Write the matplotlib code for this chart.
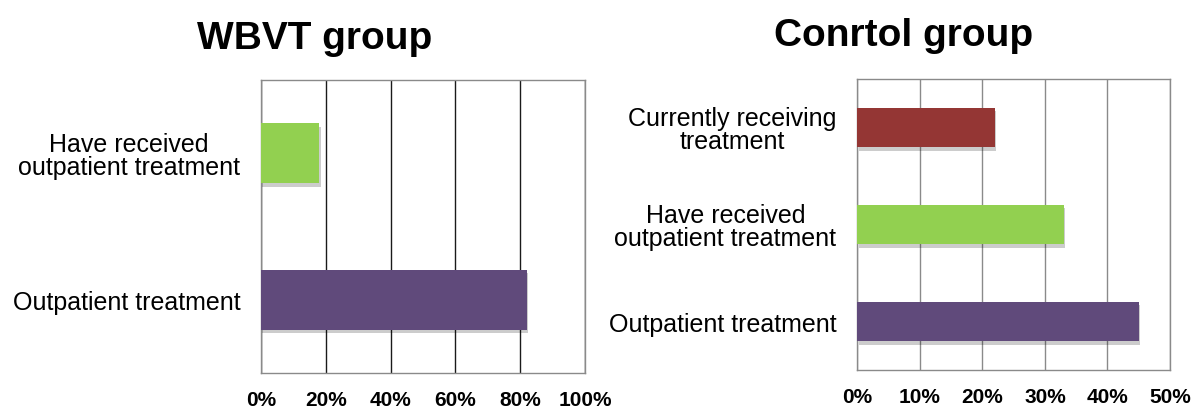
import matplotlib
matplotlib.use("Agg")
import matplotlib.pyplot as plt
import matplotlib.patheffects as pe

plt.rcParams['font.family'] = ['Liberation Sans', 'DejaVu Sans']

# WBVT group (bottom to top)
wbvt_categories = ["Outpatient treatment", "Have received\noutpatient treatment"]
wbvt_values = [82, 18]
wbvt_colors = ["#604A7B", "#92D050"]
wbvt_ticks = [0, 20, 40, 60, 80, 100]

# Control group (bottom to top)
ctrl_categories = ["Outpatient treatment", "Have received\noutpatient treatment",
                   "Currently receiving\ntreatment"]
ctrl_values = [45, 33, 22]
ctrl_colors = ["#604A7B", "#92D050", "#943634"]
ctrl_ticks = [0, 10, 20, 30, 40, 50]

fig = plt.figure(figsize=(11.92, 4.10), dpi=100)
ax1 = fig.add_axes([0.219, 0.0878, 0.2718, 0.7146])
ax2 = fig.add_axes([0.7192, 0.0951, 0.2623, 0.7098])

shadow = [pe.SimplePatchShadow(offset=(1.0, -2.5), shadow_rgbFace='black', alpha=0.2), pe.Normal()]


def draw(ax, cats, vals, colors, ticks, grid_color, spine_color):
    pos = list(range(len(cats)))
    bars = ax.barh(pos, vals, height=0.41, color=colors, zorder=3)
    for b in bars:
        b.set_path_effects(shadow)
    ax.set_xlim(ticks[0], ticks[-1])
    ax.set_ylim(-0.5, len(cats) - 0.5)
    ax.set_xticks(ticks)
    ax.set_xticklabels([f"{t}%" for t in ticks], fontsize=15, fontweight='bold')
    ax.set_yticks(pos)
    ax.set_yticklabels(cats, fontsize=18, multialignment='center', linespacing=0.95)
    ax.tick_params(axis='both', length=0)
    ax.tick_params(axis='x', pad=12)
    ax.tick_params(axis='y', pad=15)
    ax.xaxis.grid(True, color=grid_color, linewidth=1.0, zorder=0)
    ax.set_axisbelow(True)
    for s in ax.spines.values():
        s.set_color(spine_color)
        s.set_linewidth(1.0)


draw(ax1, wbvt_categories, wbvt_values, wbvt_colors, wbvt_ticks, '#1a1a1a', '#8a8a8a')
draw(ax2, ctrl_categories, ctrl_values, ctrl_colors, ctrl_ticks, '#8a8a8a', '#8a8a8a')

fig.text(0.264, 0.880, "WBVT group", fontsize=28, fontweight='bold', ha='center', va='baseline')
fig.text(0.758, 0.888, "Conrtol group", fontsize=28, fontweight='bold', ha='center', va='baseline')

fig.savefig("out.png", dpi=100)
